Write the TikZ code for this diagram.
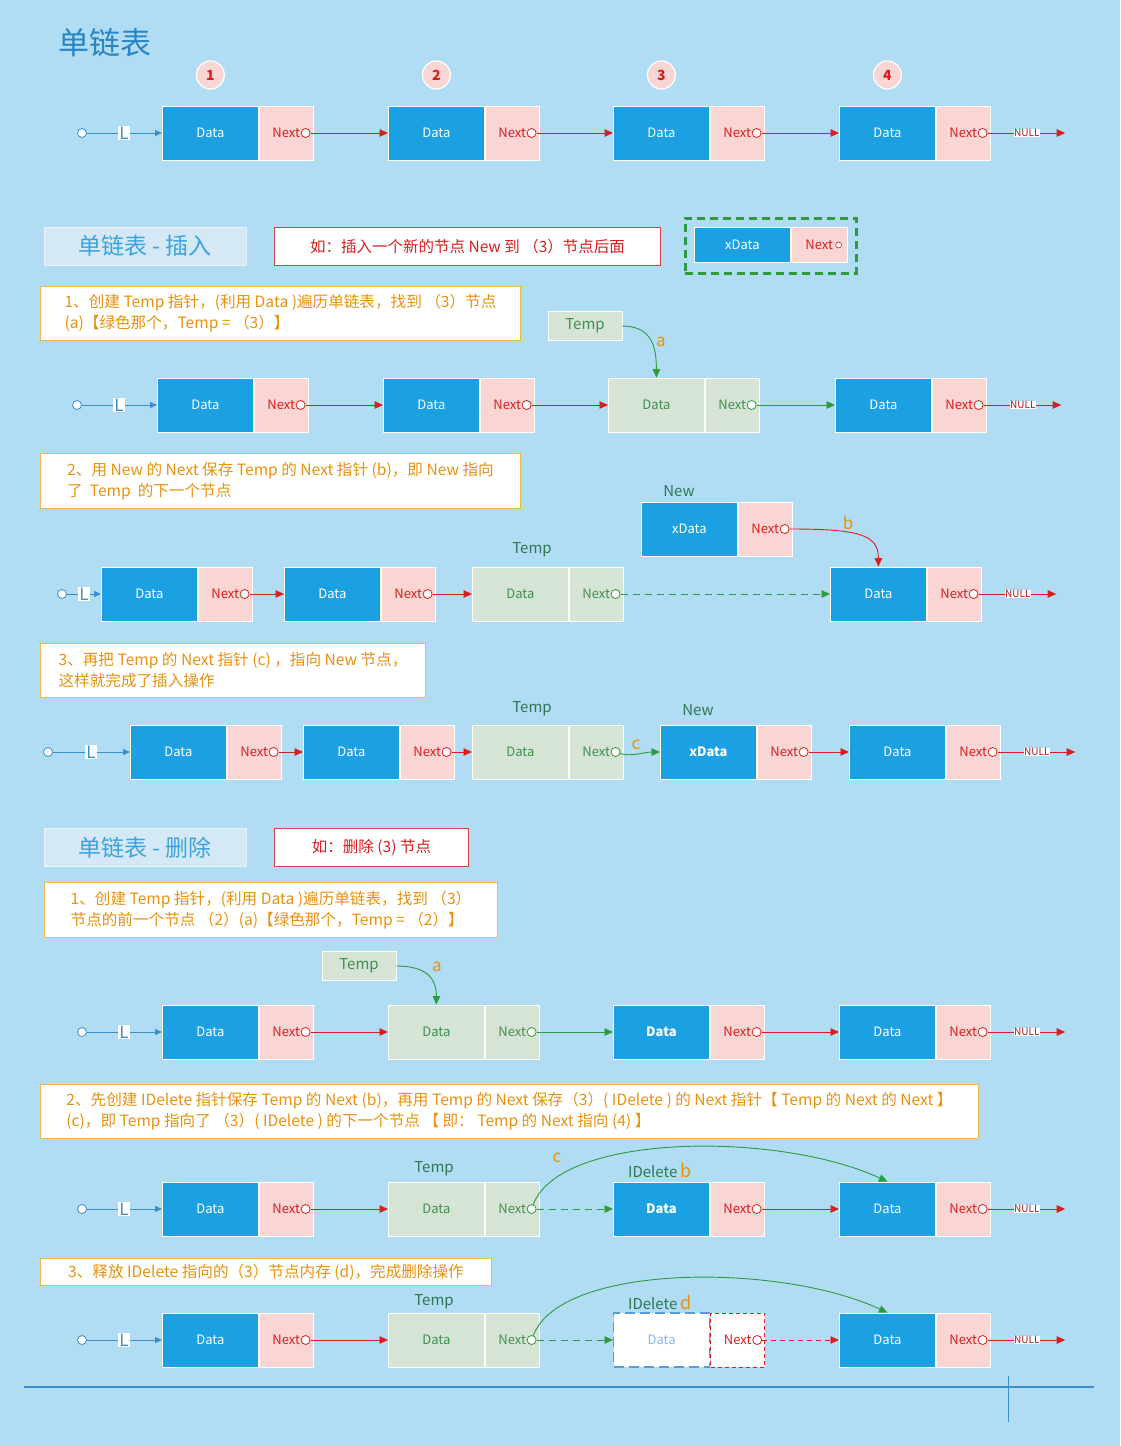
\documentclass[tikz,border=0pt]{standalone}
\usepackage{fontspec}
\setmainfont{Noto Sans CJK SC}
\usepackage{xcolor}
\usetikzlibrary{positioning}
\usetikzlibrary{calc}
\usetikzlibrary{arrows.meta}

\definecolor{bgblue}{HTML}{B0DDF3}
\definecolor{datblue}{HTML}{1BA1E2}
\definecolor{nxpink}{HTML}{F9D5D4}
\definecolor{tmpgray}{HTML}{D6E4D6}
\definecolor{lred}{HTML}{D81E1E}
\definecolor{lgreen}{HTML}{2E9A3E}
\definecolor{tgreen}{HTML}{3F8F4F}
\definecolor{tlab}{HTML}{2E7656}
\definecolor{otext}{HTML}{E8920E}
\definecolor{obord}{HTML}{F0B847}
\definecolor{hdrfill}{HTML}{D4E8F6}
\definecolor{hdrtext}{HTML}{3BA3DE}
\definecolor{ttlblue}{HTML}{2A85C4}
\definecolor{lineblue}{HTML}{3B8FCB}
\definecolor{delblue}{HTML}{5B9BD5}

\tikzset{dat/.style={rectangle, fill=datblue, draw=white, line width=0.8pt, minimum width=96, minimum height=54, inner sep=0pt, text=white, font=\fontsize{13}{15}\selectfont}}
\tikzset{nxt/.style={dat, fill=nxpink, minimum width=54, text=lred}}
\tikzset{tdat/.style={dat, fill=tmpgray, text=tgreen}}
\tikzset{tnxt/.style={nxt, fill=tmpgray, text=tgreen}}
\tikzset{ddat/.style={dat, fill=white, draw=delblue, dash pattern=on 10pt off 5pt, line width=1.2pt, text=delblue!70}}
\tikzset{dnxt/.style={nxt, fill=white, draw=lred, dash pattern=on 4pt off 3pt, line width=1pt}}
\tikzset{ptr/.style={circle, draw=#1, fill=white, line width=0.8pt, inner sep=0pt, minimum size=9}}
\tikzset{lmark/.style={fill=white, text=lineblue, inner sep=1pt, font=\fontsize{17}{17}\selectfont}}
\tikzset{nulltag/.style={fill=white, text=lred!80!black, inner sep=0.5pt, font=\fontsize{10}{10}\selectfont}}
\tikzset{numc/.style={circle, fill=nxpink, draw=white, line width=1.2pt, minimum size=28, inner sep=0pt, text=lred, font=\bfseries\fontsize{14}{14}\selectfont}}
\tikzset{tmpbox/.style={fill=tmpgray, draw=white, minimum width=74, minimum height=29, text=tgreen, font=\fontsize{15}{15}\selectfont}}
\tikzset{tlabel/.style={text=tlab, font=\fontsize{15}{15}\selectfont}}
\tikzset{lett/.style={text=otext, font=\fontsize{17}{17}\selectfont}}
\tikzset{stepbox/.style={draw=obord, fill=white, line width=1pt, text=otext, anchor=north west, align=left, inner sep=0pt, font=\fontsize{15.6}{21}\selectfont}}
\tikzset{hdr/.style={fill=hdrfill, draw=white!50!hdrfill, minimum width=202, minimum height=38, anchor=north west, text=hdrtext, font=\fontsize{23}{23}\selectfont}}
\tikzset{rbox/.style={fill=white, draw=lred!85, line width=1pt, minimum height=38, anchor=north west, text=lred, font=\fontsize{15.5}{15.5}\selectfont}}
\tikzset{redln/.style={draw=lred, line width=0.9pt}}
\tikzset{redarr/.style={redln, -{Triangle[length=8.5pt,width=7.5pt]}}}
\tikzset{grnarr/.style={draw=lgreen, line width=0.9pt, -{Triangle[length=8.5pt,width=7.5pt]}}}
\tikzset{dashln/.style={dash pattern=on 7pt off 5pt}}
\tikzset{blueln/.style={draw=lineblue, line width=0.9pt}}
\tikzset{bluearr/.style={blueln, -{Triangle[length=7pt,width=6pt]}}}

% list node: name, west point, data style, next style, data text, pointer colour
\newcommand{\lnode}[6]{%
  \node[#3, anchor=west] (#1) at (#2) {#5};
  \node[#4, right=0pt of #1] (#1x) {Next};
  \node[ptr=#6] (#1c) at ([xshift=-8pt]#1x.east) {};}
% list head: name, circle x, L x, y
\newcommand{\lhead}[4]{%
  \node[ptr=lineblue] (#1o) at (#2,#4) {};
  \node[lmark] (#1L) at (#3,#4) {L};
  \draw[blueln] (#1o) -- (#1L);}
% NULL end
\newcommand{\ltail}[1]{%
  \node[nulltag, right=26pt of #1c] (#1n) {NULL};
  \coordinate[right=25pt of #1n] (#1e);
  \draw[redln] (#1c) -- (#1n);
  \draw[redarr] (#1n) -- (#1e);}

\begin{document}
\begin{tikzpicture}[x=1pt, y=-1pt]
\fill[bgblue] (0,0) rectangle (1120,1446);
\useasboundingbox (0,0) rectangle (1120,1446);

\node[anchor=west, text=ttlblue, font=\fontsize{31}{31}\selectfont] (title) at (55,43) {单链表};

% row 1
\lhead{r1}{82}{124}{133}
\lnode{r1a}{162,133}{dat}{nxt}{Data}{lred}
\lnode{r1b}{388,133}{dat}{nxt}{Data}{lred}
\lnode{r1c}{613,133}{dat}{nxt}{Data}{lred}
\lnode{r1d}{839,133}{dat}{nxt}{Data}{lred}
\ltail{r1d}
\foreach \n/\k in {r1a/1, r1b/2, r1c/3, r1d/4}
  \node[numc, above=16pt of \n] (num\k) {\k};
\draw[bluearr] (r1L) -- (r1a.west);
\draw[redarr] (r1ac) -- (r1b.west);
\draw[redarr] (r1bc) -- (r1c.west);
\draw[redarr] (r1cc) -- (r1d.west);

% insert
\node[hdr] (ihdr) at (44,227) {单链表 - 插入};
\node[rbox, minimum width=386] (ibox) at (274,227) {如：插入一个新的节点 New 到 （3）节点后面};
\node[draw=lgreen, dash pattern=on 8pt off 5pt, line width=2.5pt, minimum width=171, minimum height=55, anchor=north west, inner sep=0pt] (nbox) at (684,217) {};
\node[dat, minimum height=35, anchor=west] (nb) at (694,245) {xData};
\node[nxt, minimum height=35, minimum width=56, right=0pt of nb] (nbx) {Next\hspace{9pt}};
\node[ptr=lred, minimum size=6, line width=0.6pt] (nbc) at ([xshift=-9pt]nbx.east) {};

\node[stepbox, minimum width=480, minimum height=54] (is1) at (40,286) {1、创建 Temp 指针，(利用 Data )遍历单链表，找到 （3）节点\\(a)【绿色那个，Temp = （3）】};

% row 2
\lhead{r2}{77}{119}{405}
\lnode{r2a}{157,405}{dat}{nxt}{Data}{lred}
\lnode{r2b}{383,405}{dat}{nxt}{Data}{lred}
\lnode{r2c}{608,405}{tdat}{tnxt}{Data}{lgreen}
\lnode{r2d}{835,405}{dat}{nxt}{Data}{lred}
\ltail{r2d}
\draw[bluearr] (r2L) -- (r2a.west);
\draw[redarr] (r2ac) -- (r2b.west);
\draw[redarr] (r2bc) -- (r2c.west);
\draw[grnarr] (r2cc) -- (r2d.west);
\node[tmpbox] (r2t) at (585,326) {Temp};
\draw[grnarr] (r2t.east) .. controls +(30,0) and +(0,-30) .. (r2c.north);
\node[lett] (r2la) at (661,342) {a};

\node[stepbox, minimum width=480, minimum height=55] (is2) at (40,453) {2、用 New 的 Next 保存 Temp 的 Next 指针 (b)，即 New 指向\\了~~Temp~~的下一个节点};

% row 3
\lhead{r3}{62}{84}{594}
\lnode{r3a}{101,594}{dat}{nxt}{Data}{lred}
\lnode{r3b}{284,594}{dat}{nxt}{Data}{lred}
\lnode{r3c}{472,594}{tdat}{tnxt}{Data}{lgreen}
\lnode{r3d}{830,594}{dat}{nxt}{Data}{lred}
\ltail{r3d}
\lnode{r3n}{641,529}{dat}{nxt}{xData}{lred}
\node[tlabel] (r3tl) at (532,550) {Temp};
\node[tlabel] (r3nl) at (679,491) {New};
\draw[bluearr] (r3L) -- (r3a.west);
\draw[redarr] (r3ac) -- (r3b.west);
\draw[redarr] (r3bc) -- (r3c.west);
\draw[grnarr, dashln] (r3cc) -- (r3d.west);
\draw[redarr] (r3nc) .. controls +(75,0) and +(0,-32) .. (r3d.north);
\node[lett] (r3lb) at (848,523) {b};

\node[stepbox, minimum width=385, minimum height=54] (is3) at (40,643) {3、再把 Temp 的 Next 指针 (c) ，指向 New 节点，\\这样就完成了插入操作};

% row 4
\lhead{r4}{48}{91}{752}
\lnode{r4a}{130,752}{dat}{nxt}{Data}{lred}
\lnode{r4b}{303,752}{dat}{nxt}{Data}{lred}
\lnode{r4c}{472,752}{tdat}{tnxt}{Data}{lgreen}
\lnode{r4n}{660,752}{dat}{nxt}{\textbf{xData}}{lred}
\lnode{r4d}{849,752}{dat}{nxt}{Data}{lred}
\ltail{r4d}
\node[tlabel] (r4tl) at (532,709) {Temp};
\node[tlabel] (r4nl) at (698,710) {New};
\draw[bluearr] (r4L) -- (r4a.west);
\draw[redarr] (r4ac) -- (r4b.west);
\draw[redarr] (r4bc) -- (r4c.west);
\draw[grnarr] (r4cc) .. controls +(15,5) and +(-15,0) .. (r4n.west);
\node[lett] (r4lc) at (636,745) {c};
\draw[redarr] (r4nc) -- (r4d.west);

% delete
\node[hdr] (dhdr) at (44,828) {单链表 - 删除};
\node[rbox, minimum width=194] (dbox) at (274,828) {如：删除 (3) 节点};
\node[stepbox, minimum width=453, minimum height=55] (ds1) at (44,882) {1、创建 Temp 指针，(利用 Data )遍历单链表，找到 （3）\\节点的前一个节点 （2）(a)【绿色那个，Temp = （2）】};

% row 5
\lhead{r5}{82}{124}{1032}
\lnode{r5a}{162,1032}{dat}{nxt}{Data}{lred}
\lnode{r5b}{388,1032}{tdat}{tnxt}{Data}{lgreen}
\lnode{r5c}{613,1032}{dat}{nxt}{\textbf{Data}}{lred}
\lnode{r5d}{839,1032}{dat}{nxt}{Data}{lred}
\ltail{r5d}
\draw[bluearr] (r5L) -- (r5a.west);
\draw[redarr] (r5ac) -- (r5b.west);
\draw[grnarr] (r5bc) -- (r5c.west);
\draw[redarr] (r5cc) -- (r5d.west);
\node[tmpbox] (r5t) at (359,966) {Temp};
\draw[grnarr] (r5t.east) .. controls +(32,0) and +(0,-25) .. (r5b.north);
\node[lett] (r5la) at (437,967) {a};

\node[stepbox, minimum width=938, minimum height=54] (ds2) at (40,1084) {2、先创建 IDelete 指针保存 Temp 的 Next (b)，再用 Temp 的 Next 保存（3）( IDelete ) 的 Next 指针【 Temp 的 Next 的 Next 】\\(c)，即 Temp 指向了 （3）( IDelete ) 的下一个节点 【 即： Temp 的 Next 指向 (4) 】};

% row 6
\lhead{r6}{82}{124}{1209}
\lnode{r6a}{162,1209}{dat}{nxt}{Data}{lred}
\lnode{r6b}{388,1209}{tdat}{tnxt}{Data}{lgreen}
\lnode{r6c}{613,1209}{dat}{nxt}{\textbf{Data}}{lred}
\lnode{r6d}{839,1209}{dat}{nxt}{Data}{lred}
\ltail{r6d}
\node[tlabel] (r6tl) at (434,1169) {Temp};
\node[tlabel] (r6dl) at (660,1170) {IDelete \textcolor{otext}{\fontsize{18}{18}\selectfont b}};
\draw[bluearr] (r6L) -- (r6a.west);
\draw[redarr] (r6ac) -- (r6b.west);
\draw[grnarr, dashln] (r6bc) -- (r6c.west);
\draw[redarr] (r6cc) -- (r6d.west);
\draw[grnarr] (r6bc) .. controls +(29,-77) and +(-107,-50) .. (r6d.north);
\node[lett] (r6lc) at (557,1158) {c};

\node[stepbox, minimum width=451, minimum height=27] (ds3) at (40,1258) {3、释放 IDelete 指向的（3）节点内存 (d)，完成删除操作};

% row 7
\lhead{r7}{82}{124}{1340}
\lnode{r7a}{162,1340}{dat}{nxt}{Data}{lred}
\lnode{r7b}{388,1340}{tdat}{tnxt}{Data}{lgreen}
\lnode{r7c}{613,1340}{ddat}{dnxt}{Data}{lred}
\lnode{r7d}{839,1340}{dat}{nxt}{Data}{lred}
\ltail{r7d}
\node[tlabel] (r7tl) at (434,1302) {Temp};
\node[tlabel] (r7dl) at (660,1302) {IDelete \textcolor{otext}{\fontsize{18}{18}\selectfont d}};
\draw[bluearr] (r7L) -- (r7a.west);
\draw[redarr] (r7ac) -- (r7b.west);
\draw[grnarr, dashln] (r7bc) -- (r7c.west);
\draw[redarr, dash pattern=on 5pt off 4pt] (r7cc) -- (r7d.west);
\draw[grnarr] (r7bc) .. controls +(29,-77) and +(-107,-50) .. (r7d.north);

% bottom rule
\coordinate (bl) at (24,1387);
\coordinate (br) at (1094,1387);
\coordinate (vt) at (1008,1376);
\coordinate (vb) at (1008,1422);
\draw[lineblue, line width=1.2pt] (bl) -- (br);
\draw[lineblue, line width=0.8pt] (vt) -- (vb);
\end{tikzpicture}
\end{document}
